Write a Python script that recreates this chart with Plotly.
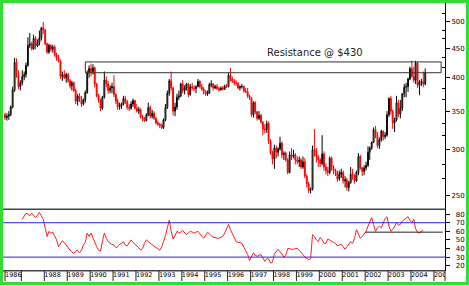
import numpy as np
import pandas as pd
import plotly.graph_objects as go

# ---------------- DATA ----------------
# Monthly gold candles, Apr 1986 .. Aug 2004  (open, high, low, close)
price_start = "1986-04-01"
opens = [
    345, 341, 343, 345, 356, 381, 425, 404, 386,
    392, 402, 405, 420, 455, 458, 449, 468, 454, 460, 469, 488,
    484, 458, 443, 455, 448, 452, 438, 432, 428, 402, 405, 400,
    405, 395, 387, 392, 380, 364, 372, 367, 360, 366, 377, 408,
    415, 410, 416, 390, 372, 366, 354, 370, 396, 390, 380, 384,
    386, 374, 364, 356, 358, 360, 368, 363, 355, 354, 360, 365,
    354, 350, 352, 342, 339, 337, 345, 355, 343, 347, 340, 334,
    332, 330, 328, 338, 355, 376, 395, 384, 350, 356, 370, 372,
    390, 380, 384, 390, 374, 386, 384, 383, 386, 394, 386, 382,
    379, 375, 376, 389, 390, 384, 386, 383, 381, 384, 382, 387,
    386, 404, 398, 395, 392, 391, 384, 386, 386, 379, 378, 372,
    369, 345, 362, 349, 340, 344, 335, 326, 325, 333, 311, 296,
    289, 302, 297, 301, 308, 294, 296, 288, 274, 294, 292, 294,
    288, 286, 288, 280, 286, 270, 262, 255, 256, 300, 299, 292,
    288, 284, 295, 280, 276, 274, 290, 280, 276, 274, 267, 272,
    274, 265, 266, 258, 263, 272, 271, 265, 274, 292, 279, 275,
    279, 282, 297, 302, 309, 325, 318, 305, 312, 323, 316, 318,
    345, 368, 350, 334, 338, 362, 346, 354, 375, 385, 386, 398,
    415, 402, 396, 424, 388, 393, 394, 390,
]
highs = [
    348, 347, 350, 358, 386, 433, 432, 412, 396,
    412, 410, 425, 470, 478, 462, 475, 472, 466, 483, 490, 500,
    486, 460, 458, 457, 456, 455, 442, 438, 430, 410, 412, 408,
    408, 398, 395, 394, 383, 375, 376, 372, 368, 380, 412, 420,
    423, 422, 418, 392, 375, 368, 372, 410, 402, 395, 388, 392,
    404, 376, 368, 362, 362, 372, 372, 366, 360, 364, 368, 366,
    360, 356, 354, 345, 342, 347, 362, 358, 352, 350, 342, 337,
    334, 333, 340, 360, 380, 398, 410, 386, 362, 375, 380, 392,
    396, 388, 392, 392, 390, 392, 388, 388, 398, 396, 390, 385,
    380, 380, 392, 396, 391, 389, 390, 386, 386, 387, 389, 390,
    408, 416, 402, 398, 396, 393, 388, 390, 388, 384, 384, 374,
    370, 364, 364, 350, 350, 346, 336, 332, 337, 336, 313, 299,
    306, 305, 303, 316, 310, 298, 298, 290, 298, 302, 300, 296,
    292, 292, 290, 292, 290, 272, 264, 258, 305, 326, 302, 294,
    290, 318, 298, 284, 280, 292, 292, 282, 278, 276, 276, 278,
    276, 270, 268, 265, 280, 278, 272, 276, 296, 294, 280, 282,
    286, 304, 304, 310, 328, 330, 322, 315, 325, 324, 322, 350,
    370, 372, 352, 341, 372, 366, 366, 376, 390, 392, 400, 418,
    428, 418, 428, 426, 396, 398, 410, 415,
]
lows = [
    338, 337, 338, 343, 354, 378, 400, 382, 380,
    388, 396, 400, 418, 450, 446, 447, 448, 452, 455, 464, 476,
    455, 440, 440, 444, 442, 435, 428, 425, 398, 395, 398, 392,
    392, 383, 380, 378, 360, 358, 363, 356, 358, 362, 375, 400,
    402, 405, 385, 370, 362, 350, 352, 368, 385, 375, 376, 376,
    370, 360, 352, 352, 353, 358, 360, 352, 350, 352, 356, 352,
    348, 346, 340, 336, 335, 336, 343, 340, 340, 338, 332, 330,
    327, 326, 326, 336, 353, 372, 380, 344, 343, 352, 366, 370,
    376, 374, 380, 370, 372, 380, 379, 376, 385, 383, 380, 374,
    372, 372, 375, 385, 380, 382, 381, 378, 380, 380, 381, 384,
    385, 394, 392, 388, 387, 382, 380, 383, 377, 376, 369, 366,
    342, 341, 346, 337, 338, 333, 318, 320, 321, 307, 294, 283,
    278, 290, 292, 299, 290, 288, 286, 272, 273, 288, 290, 283,
    283, 280, 278, 278, 268, 258, 252, 252, 255, 292, 285, 280,
    280, 282, 276, 272, 270, 272, 276, 272, 270, 264, 265, 268,
    262, 258, 255, 254, 262, 266, 262, 264, 271, 277, 270, 271,
    276, 280, 288, 300, 308, 314, 302, 301, 310, 311, 313, 316,
    342, 345, 326, 322, 336, 342, 340, 350, 370, 370, 378, 396,
    400, 392, 390, 384, 373, 387, 385, 388,
]
closes = [
    341, 343, 345, 356, 381, 425, 404, 386, 392,
    402, 405, 420, 455, 458, 449, 468, 454, 460, 469, 488, 484,
    458, 443, 455, 448, 452, 438, 432, 428, 402, 405, 400, 405,
    395, 387, 392, 380, 364, 372, 367, 360, 366, 377, 408, 415,
    410, 416, 390, 372, 366, 354, 370, 396, 390, 380, 384, 386,
    374, 364, 356, 358, 360, 368, 363, 355, 354, 360, 365, 354,
    350, 352, 342, 339, 337, 345, 355, 343, 347, 340, 334, 332,
    330, 328, 338, 355, 376, 395, 384, 350, 356, 370, 372, 390,
    380, 384, 390, 374, 386, 384, 383, 386, 394, 386, 382, 379,
    375, 376, 389, 390, 384, 386, 383, 381, 384, 382, 387, 386,
    404, 398, 395, 392, 391, 384, 386, 386, 379, 378, 372, 369,
    345, 362, 349, 340, 344, 335, 326, 325, 333, 311, 296, 289,
    302, 297, 301, 308, 294, 296, 288, 274, 294, 292, 294, 288,
    286, 288, 280, 286, 270, 262, 255, 256, 300, 299, 292, 288,
    284, 295, 280, 276, 274, 290, 280, 276, 274, 267, 272, 274,
    265, 266, 258, 263, 272, 271, 265, 274, 292, 279, 275, 279,
    282, 297, 302, 309, 325, 318, 305, 312, 323, 316, 318, 345,
    368, 350, 334, 338, 362, 346, 354, 375, 385, 386, 398, 415,
    402, 396, 424, 388, 393, 394, 390, 408,
]

# Monthly RSI, Jan 1987 .. Jul 2004
rsi_start = "1987-01-01"
rsi = [
    74, 77, 81, 80, 78, 81, 79, 76, 79, 82, 78, 74,
    64, 54, 60, 58, 59, 54, 50, 42, 46, 49, 47, 44,
    40, 38, 36, 34, 37, 38, 35, 38, 44, 47, 58, 54,
    58, 52, 47, 42, 38, 37, 48, 58, 52, 48, 46, 45,
    44, 41, 42, 45, 46, 48, 44, 43, 47, 50, 47, 45,
    44, 41, 38, 40, 46, 50, 48, 46, 45, 43, 41, 40,
    38, 42, 48, 55, 64, 73, 60, 51, 55, 60, 58, 59,
    61, 58, 56, 58, 60, 59, 58, 59, 60, 57, 54, 52,
    55, 59, 57, 55, 53, 53, 52, 52, 53, 54, 58, 64,
    68, 62, 57, 52, 48, 47, 47, 46, 42, 38, 33, 26,
    30, 35, 32, 31, 32, 33, 29, 25, 28, 28, 23, 24,
    34, 37, 39, 36, 34, 30, 32, 40, 40, 39, 39, 40,
    40, 38, 35, 33, 30, 28, 27, 28, 56, 54, 50, 48,
    53, 50, 46, 46, 51, 50, 48, 47, 46, 43, 44, 45,
    42, 39, 42, 45, 48, 46, 52, 62, 56, 52, 54, 57,
    60, 66, 72, 76, 68, 60, 64, 66, 64, 70, 75, 77,
    66, 60, 62, 66, 70, 67, 68, 72, 74, 75, 77, 73,
    70, 74, 63, 59, 58, 60, 61,
]

price_ticks = [250, 300, 350, 400, 450, 500]
price_minor = [267, 283, 317, 333, 367, 383, 417, 433, 467, 483, 517]
rsi_ticks = [20, 30, 40, 50, 60, 70, 80]
rsi_bands = [70, 30]
rsi_support = 59
rsi_support_span = ["2002-01-01", "2005-05-20"]

resist_low, resist_high = 408, 426
resist_span = ["1989-10-16", "2005-04-25"]
resist_text = "Resistance @ $430"
resist_text_pos = ("1997-08-15", 442)

year_ticks = ["1986-04-15"] + [f"{y}-01-01" for y in range(1987, 2006)]
year_labels = ["1986", ""] + [str(y) for y in range(1988, 2006)]

# ---------------- FIGURE ----------------
dates = pd.date_range(price_start, periods=len(closes), freq="MS") + pd.Timedelta(days=14)
rdates = pd.date_range(rsi_start, periods=len(rsi), freq="MS") + pd.Timedelta(days=14)

W, H = 469, 286
ML, MR, MT, MB = 3, 24, 3, 5
ph = H - MT - MB
pw = W - ML - MR
def py(pix):  # pixel row -> paper y
    return (H - MB - pix) / ph
def px(pix):
    return (pix - ML) / pw

price_dom = [py(209.3), 1]
rsi_dom = [py(270.7), py(209.3)]
band_dom = [0, py(270.7)]

fig = go.Figure()
fig.add_trace(go.Candlestick(
    x=dates, open=opens, high=highs, low=lows, close=closes,
    increasing=dict(line=dict(color="black", width=1), fillcolor="white"),
    decreasing=dict(line=dict(color="#ff0000", width=1), fillcolor="#ff0000"),
    whiskerwidth=0, xaxis="x", yaxis="y", showlegend=False, hoverinfo="skip",
))
fig.add_trace(go.Scatter(
    x=rdates, y=rsi, mode="lines", line=dict(color="#ff2020", width=1),
    xaxis="x", yaxis="y2", showlegend=False, hoverinfo="skip",
))
fig.add_trace(go.Scatter(
    x=year_ticks, y=[0.5] * len(year_ticks), text=year_labels, mode="text",
    textposition="middle right", cliponaxis=True,
    textfont=dict(family="DejaVu Sans", size=6.5, color="black"),
    xaxis="x", yaxis="y3", showlegend=False, hoverinfo="skip",
))

shapes = []
# resistance box (shapes on log axes take raw data values)
shapes.append(dict(type="rect", xref="x", yref="y",
                   x0=resist_span[0], x1=resist_span[1],
                   y0=resist_low, y1=resist_high,
                   line=dict(color="#333333", width=1), fillcolor="rgba(0,0,0,0)"))
# RSI bands
for v in rsi_bands:
    shapes.append(dict(type="line", xref="x domain", yref="y2", x0=0, x1=1, y0=v, y1=v,
                       line=dict(color="#2626d9", width=1)))
shapes.append(dict(type="line", xref="x", yref="y2", x0=rsi_support_span[0],
                   x1=rsi_support_span[1], y0=rsi_support, y1=rsi_support,
                   line=dict(color="#222222", width=1)))
# panel separators
for yy in [price_dom[0], rsi_dom[0]]:
    shapes.append(dict(type="line", xref="paper", yref="paper", x0=0, x1=1, y0=yy, y1=yy,
                       line=dict(color="#444444", width=1.5)))
# year ticks in label band
for t in year_ticks:
    shapes.append(dict(type="line", xref="x", yref="paper", x0=t, x1=t, y0=0, y1=band_dom[1],
                       line=dict(color="#222222", width=1)))
shapes.append(dict(type="line", xref="paper", yref="paper", x0=1, x1=1, y0=0, y1=band_dom[1],
                   line=dict(color="#222222", width=1)))
# green frame
shapes.append(dict(type="rect", xref="paper", yref="paper",
                   x0=px(1.5), x1=px(467.5), y0=py(283.5), y1=py(1.5),
                   line=dict(color="#33dd33", width=3), fillcolor="rgba(0,0,0,0)"))

fig.update_layout(
    width=W, height=H, margin=dict(l=ML, r=MR, t=MT, b=MB, pad=0),
    paper_bgcolor="white", plot_bgcolor="white", showlegend=False,
    shapes=shapes,
    xaxis=dict(range=["1986-03-14", "2005-06-26"], domain=[0, 1], anchor="y3",
               showticklabels=False, ticks="", showgrid=False, zeroline=False,
               showline=False, rangeslider=dict(visible=False)),
    yaxis=dict(type="log", domain=price_dom, anchor="x", side="right",
               range=[np.log10(236.5), np.log10(539)],
               tickvals=price_ticks, ticktext=[str(v) for v in price_ticks],
               ticks="outside", ticklen=4, tickcolor="black",
               showline=True, linecolor="black", linewidth=1,
               showgrid=False, zeroline=False,
               tickfont=dict(family="DejaVu Sans", size=7, color="black"),
               minor=dict(tickvals=price_minor, ticks="inside", ticklen=3, tickcolor="black")),
    yaxis2=dict(domain=rsi_dom, anchor="x", side="right", range=[14.2, 85.6],
                tickvals=rsi_ticks, ticktext=["\u2007" + str(v) for v in rsi_ticks],
                ticks="outside", ticklen=4, tickcolor="black",
                showline=True, linecolor="black", linewidth=1,
                showgrid=False, zeroline=False,
                tickfont=dict(family="DejaVu Sans", size=7, color="black")),
    yaxis3=dict(domain=band_dom, anchor="x", range=[0, 1], visible=False),
    annotations=[dict(x=resist_text_pos[0], y=np.log10(resist_text_pos[1]), xref="x", yref="y",
                      text=resist_text, showarrow=False, xanchor="left", yanchor="middle",
                      font=dict(family="DejaVu Sans", size=10, color="#222222"))],
)

fig.write_html("out.html")
